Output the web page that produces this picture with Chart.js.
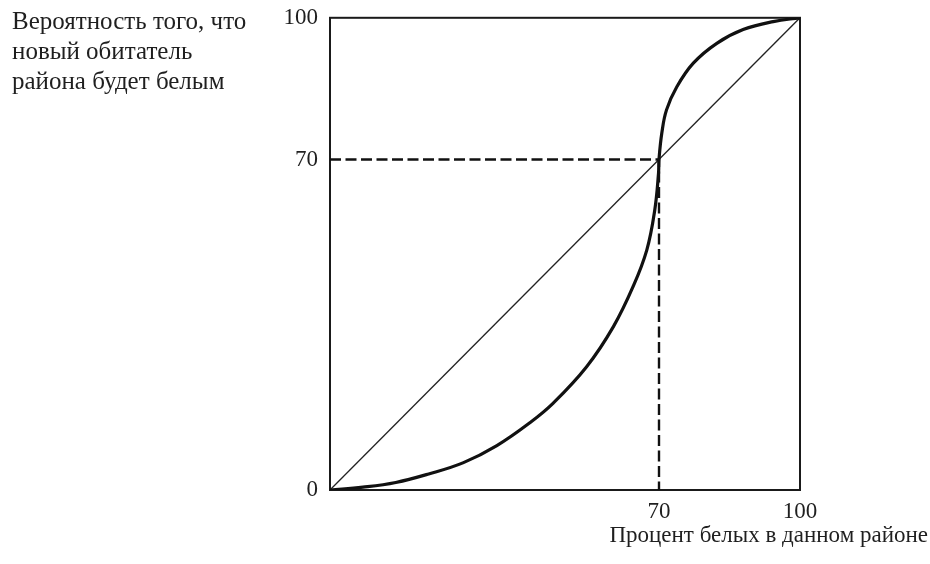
<!DOCTYPE html>
<html lang="ru">
<head>
<meta charset="utf-8">
<title>Вероятность того, что новый обитатель района будет белым</title>
<script src="https://cdn.jsdelivr.net/npm/chart.js@4.4.1/dist/chart.umd.min.js"></script>
<style>
  html, body { margin: 0; padding: 0; background: #fff; }
  #wrap { position: relative; width: 930px; height: 564px; }
  .label {
    position: absolute;
    font-family: "Liberation Serif", "DejaVu Serif", serif;
    line-height: 30px;
    color: #1f1f1f;
    white-space: nowrap;
  }
  #yTitle { left: 12px; top: 6px; font-size: 25px; }
  #xTitle { right: 2px; top: 520px; font-size: 23px; }
</style>
</head>
<body>
<div id="wrap">
  <canvas id="chart"></canvas>
  <div class="label" id="yTitle">Вероятность того, что<br>новый обитатель<br>района будет белым</div>
  <div class="label" id="xTitle">Процент белых в данном районе</div>
</div>
<script>
// tick labels
const xTicks = [70, 100];
const yTicks = [0, 70, 100];

// tipping curve
const curveX = [0, 7, 14, 21, 28.4, 35.5, 42.6, 47.5, 54.6, 60.3, 64.5, 67.4, 69.1, 69.9, 70, 70.6, 71.6, 73.8, 77.3, 82.3, 87.9, 94.3, 100];
const curveY = [0, 0.6, 1.6, 3.4, 5.8, 9.4, 14.3, 18.4, 26.1, 34.6, 43.1, 50.8, 59.3, 67.1, 70, 75.6, 80.5, 85.4, 90.4, 94.6, 97.5, 99.2, 100];

// 45-degree reference line
const diagX = [0, 100];
const diagY = [0, 100];

// dashed guide through the tipping point
const guideX = [0, 70, 70];
const guideY = [70, 70, 0];

const toPoints = (xs, ys) => xs.map((x, i) => ({ x: x, y: ys[i] }));

const font = { family: "'Liberation Serif', 'DejaVu Serif', serif", size: 23 };

// box around the plot area
const frame = {
  id: "frame",
  beforeDatasetsDraw(chart) {
    const { ctx, chartArea: a } = chart;
    ctx.save();
    ctx.strokeStyle = "#1a1a1a";
    ctx.lineWidth = 2;
    ctx.strokeRect(a.left, a.top, a.right - a.left, a.bottom - a.top);
    ctx.restore();
  },
};

new Chart(document.getElementById("chart").getContext("2d"), {
  type: "scatter",
  data: {
    datasets: [
      {
        label: "curve",
        data: toPoints(curveX, curveY),
        showLine: true,
        borderColor: "#111",
        borderWidth: 3.2,
        pointRadius: 0,
        tension: 0.4,
        order: 1,
      },
      {
        label: "guide",
        data: toPoints(guideX, guideY),
        showLine: true,
        borderColor: "#111",
        borderWidth: 2.4,
        borderDash: [11, 4.5],
        pointRadius: 0,
        order: 2,
      },
      {
        label: "diagonal",
        data: toPoints(diagX, diagY),
        showLine: true,
        borderColor: "#222",
        borderWidth: 1.3,
        pointRadius: 0,
        order: 3,
      },
    ],
  },
  options: {
    responsive: true,
    maintainAspectRatio: false,
    animation: false,
    layout: { padding: { left: 0, top: 14, right: 130, bottom: 0 } },
    plugins: {
      legend: { display: false },
      tooltip: { enabled: false },
    },
    scales: {
      x: {
        type: "linear",
        min: 0,
        max: 100,
        grid: { display: false },
        border: { display: false },
        ticks: { color: "#1f1f1f", font: font, padding: 0, maxRotation: 0 },
        afterBuildTicks: (scale) => { scale.ticks = xTicks.map((v) => ({ value: v })); },
        afterFit: (scale) => { scale.height = 74; },
      },
      y: {
        type: "linear",
        min: 0,
        max: 100,
        grid: { display: false },
        border: { display: false },
        ticks: { color: "#1f1f1f", font: font, padding: 4 },
        afterBuildTicks: (scale) => { scale.ticks = yTicks.map((v) => ({ value: v })); },
        afterFit: (scale) => { scale.width = 330; },
      },
    },
  },
  plugins: [frame],
});
</script>
</body>
</html>
